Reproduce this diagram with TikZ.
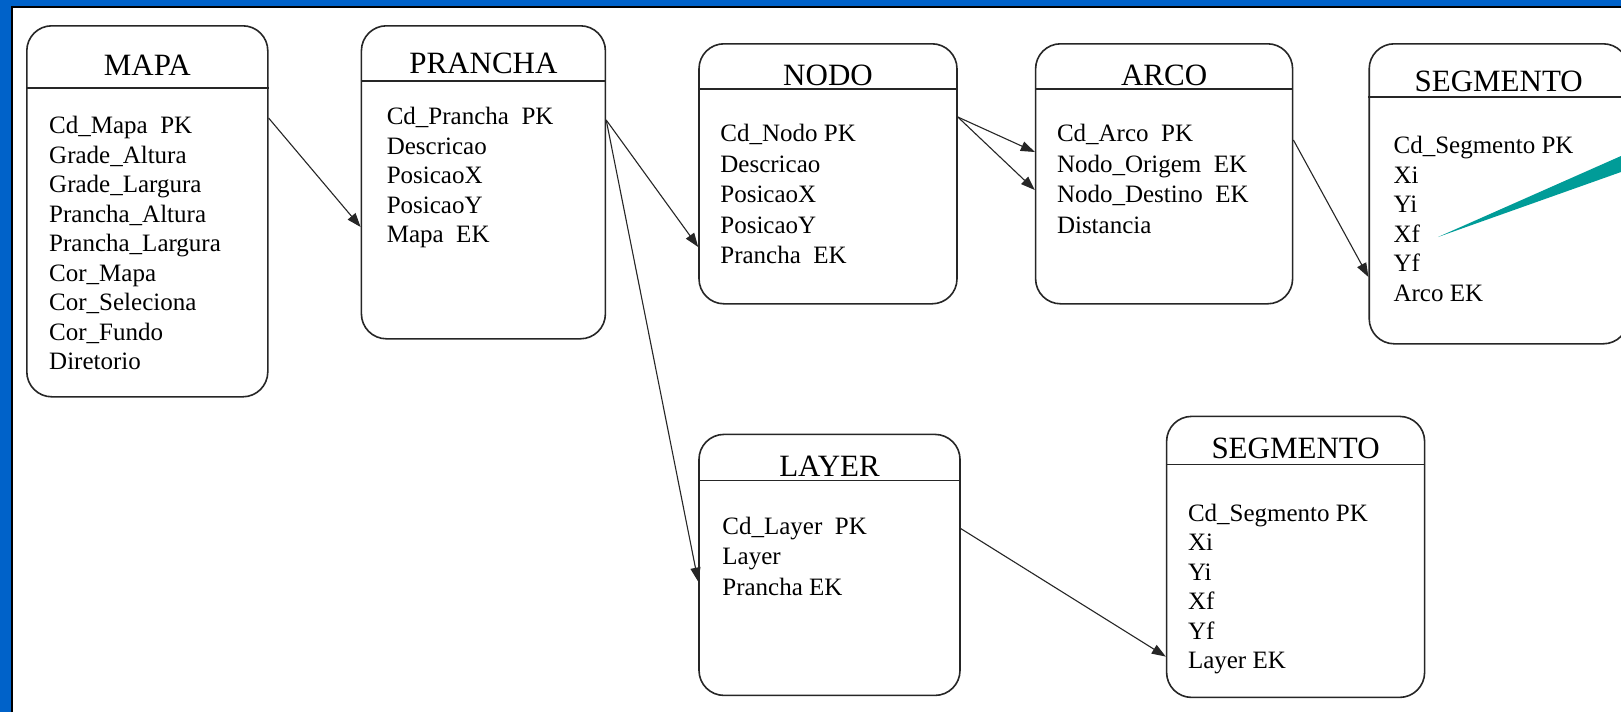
\documentclass[tikz,border=0pt]{standalone}
\usepackage{fontspec}
\setmainfont{Liberation Serif}
\usetikzlibrary{arrows.meta, positioning}
\definecolor{SlideBlue}{HTML}{0062C9}
\definecolor{PointerTeal}{HTML}{009C98}

\begin{document}
\begin{tikzpicture}[x=1pt, y=1pt, >=Stealth,
        entity/.style={rectangle, draw=black!85, rounded corners=25pt, line width=1.6pt, inner sep=0pt, anchor=north west},
        etitle/.style={font=\fontsize{31}{31}\selectfont, anchor=base, inner sep=0pt},
        efields/.style={font=\fontsize{25}{29.5}\selectfont, align=left, anchor=north west, inner sep=0pt},
        split/.style={line width=1.6pt, draw=black!85},
        fkarrow/.style={-{Triangle[length=14pt, width=10pt]}, line width=1.1pt, black!85}]

    % slide frame
    \useasboundingbox (0,0) rectangle (1621,-712);
    \fill[SlideBlue] (0,0) rectangle (1621,-712);
    \fill[white] (13,-8) rectangle (1630,-720);
    \draw[line width=2pt] (12,-712) -- (12,-7) -- (1621,-7);

    % tables
    \node[entity, minimum width=241pt, minimum height=371pt] (mapa) at (26,-25) {};
    \node[entity, minimum width=244pt, minimum height=313pt, right=92pt of mapa.north east, anchor=north west] (prancha) {};
    \node[entity, minimum width=258pt, minimum height=260pt, below right=18pt and 92pt of prancha.north east, anchor=north west] (nodo) {};
    \node[entity, minimum width=257pt, minimum height=260pt, right=77pt of nodo.north east, anchor=north west] (arco) {};
    \node[entity, minimum width=259pt, minimum height=300pt, right=75pt of arco.north east, anchor=north west] (seg) {};
    \node[entity, minimum width=261pt, minimum height=261pt, below=129pt of nodo.south west, anchor=north west] (layer) {};
    \node[entity, minimum width=258pt, minimum height=281pt, above right=18pt and 205pt of layer.north east, anchor=north west] (seglayer) {};

    % header lines
    \draw[split] ([yshift=-63pt]mapa.north west) -- ([yshift=-63pt]mapa.north east);
    \draw[split] ([yshift=-56pt]prancha.north west) -- ([yshift=-56pt]prancha.north east);
    \draw[split] ([yshift=-46pt]nodo.north west) -- ([yshift=-46pt]nodo.north east);
    \draw[split] ([yshift=-46pt]arco.north west) -- ([yshift=-46pt]arco.north east);
    \draw[split] ([yshift=-54pt]seg.north west) -- ([yshift=-54pt]seg.north east);
    \draw[split] ([yshift=-47pt]layer.north west) -- ([yshift=-47pt]layer.north east);
    \draw[split] ([yshift=-49pt]seglayer.north west) -- ([yshift=-49pt]seglayer.north east);

    % titles
    \node[etitle] (mapa-t) at ([yshift=-50pt]mapa.north) {MAPA};
    \node[etitle] (prancha-t) at ([yshift=-48pt]prancha.north) {PRANCHA};
    \node[etitle] (nodo-t) at ([yshift=-42pt]nodo.north) {NODO};
    \node[etitle] (arco-t) at ([yshift=-42pt]arco.north) {ARCO};
    \node[etitle] (seg-t) at ([yshift=-48pt]seg.north) {SEGMENTO};
    \node[etitle] (layer-t) at ([yshift=-43pt]layer.north) {LAYER};
    \node[etitle] (seglayer-t) at ([yshift=-43pt]seglayer.north) {SEGMENTO};

    % fields
    \node[efields] (mapa-f) at ([xshift=23pt, yshift=-91pt]mapa.north west)
        {Cd\_Mapa\ \ PK\\Grade\_Altura\\Grade\_Largura\\Prancha\_Altura\\Prancha\_Largura\\Cor\_Mapa\\Cor\_Seleciona\\Cor\_Fundo\\Diretorio};
    \node[efields] (prancha-f) at ([xshift=26pt, yshift=-82pt]prancha.north west)
        {Cd\_Prancha\ \ PK\\Descricao\\PosicaoX\\PosicaoY\\Mapa\ \ EK};
    \node[efields, font=\fontsize{25}{30.5}\selectfont] (nodo-f) at ([xshift=22pt, yshift=-81pt]nodo.north west)
        {Cd\_Nodo PK\\Descricao\\PosicaoX\\PosicaoY\\Prancha\ \ EK};
    \node[efields, font=\fontsize{25}{30.5}\selectfont] (arco-f) at ([xshift=22pt, yshift=-81pt]arco.north west)
        {Cd\_Arco\ \ PK\\Nodo\_Origem\ \ EK\\Nodo\_Destino\ \ EK\\Distancia};
    \node[efields] (seg-f) at ([xshift=25pt, yshift=-93pt]seg.north west)
        {Cd\_Segmento PK\\Xi\\Yi\\Xf\\Yf\\Arco EK};
    \node[efields, font=\fontsize{25}{30.5}\selectfont] (layer-f) at ([xshift=24pt, yshift=-83pt]layer.north west)
        {Cd\_Layer\ \ PK\\Layer\\Prancha EK};
    \node[efields] (seglayer-f) at ([xshift=22pt, yshift=-88pt]seglayer.north west)
        {Cd\_Segmento PK\\Xi\\Yi\\Xf\\Yf\\Layer EK};

    % relationships
    \draw[fkarrow] ([yshift=-93pt]mapa.north east) -- ([yshift=-202pt]prancha.north west);
    \draw[fkarrow] ([yshift=-95pt]prancha.north east) -- ([yshift=-204pt]nodo.north west);
    \draw[fkarrow] ([yshift=-95pt]prancha.north east) -- ([yshift=-148pt]layer.north west);
    \draw[fkarrow] ([yshift=-74pt]nodo.north east) -- ([yshift=-109pt]arco.north west);
    \draw[fkarrow] ([yshift=-74pt]nodo.north east) -- ([yshift=-147pt]arco.north west);
    \draw[fkarrow] ([yshift=-97pt]arco.north east) -- ([yshift=-234pt]seg.north west);
    \draw[fkarrow] ([yshift=-95pt]layer.north east) -- ([yshift=-241pt]seglayer.north west);

    % pointer
    \fill[PointerTeal] (1438,-237) -- (1621,-156) -- (1621,-172) -- cycle;
\end{tikzpicture}
\end{document}
